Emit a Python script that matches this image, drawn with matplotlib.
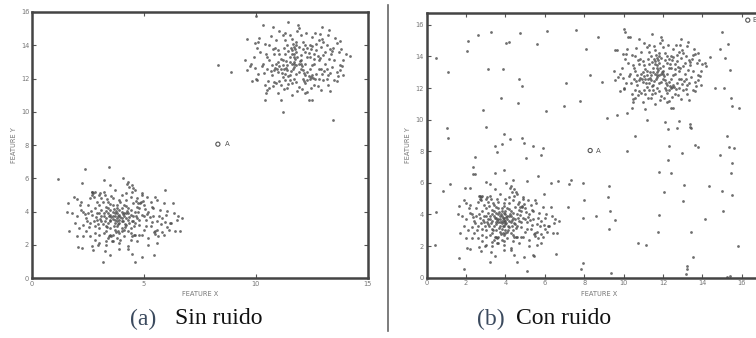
import numpy as np
import matplotlib.pyplot as plt

# ---------------------------------------------------------------- data
# lower-left cluster (x, y)
cluster_low = [
    (1.18, 5.94), (2.37, 6.55), (3.45, 6.65), (2.22, 5.7), (3.23, 5.9), (3.48, 5.6),
    (4.05, 6.0), (4.3, 5.8), (4.45, 5.6), (4.52, 5.4), (4.45, 5.2), (2.66, 5.16),
    (2.74, 5.1), (3.04, 5.1), (3.26, 5.0), (1.88, 4.9), (2.0, 4.74), (1.62, 4.54),
    (1.58, 4.0), (2.14, 4.4), (2.29, 4.0), (1.67, 2.85), (2.22, 1.79), (2.07, 1.85),
    (2.66, 1.93), (2.74, 1.7), (3.19, 0.98), (3.48, 1.38), (3.26, 1.65), (3.56, 2.2),
    (3.93, 2.3), (4.3, 1.9), (4.3, 1.73), (4.45, 1.45), (4.6, 0.98), (4.93, 1.28),
    (5.45, 1.38), (5.64, 2.5), (5.79, 2.79), (6.01, 3.09), (6.16, 3.29), (6.34, 3.9),
    (6.46, 3.49), (6.39, 2.85), (5.94, 5.3), (5.57, 4.7), (5.34, 4.29), (5.12, 4.9),
    (4.9, 5.1), (4.82, 4.5), (6.7, 3.6), (6.6, 2.8),
    (2.6, 3.3), (2.7, 3.8), (2.8, 4.2), (2.9, 3.5), (2.9, 4.6), (3.0, 3.0), (3.0, 3.9),
    (3.1, 4.1), (3.1, 3.4), (3.2, 2.7), (3.2, 3.7), (3.3, 4.3), (3.3, 3.1), (3.4, 3.9),
    (3.4, 2.4), (3.4, 4.6), (3.5, 3.5), (3.5, 3.0), (3.5, 4.1), (3.6, 3.7), (3.6, 2.6),
    (3.6, 4.4), (3.7, 3.3), (3.7, 3.9), (3.7, 2.9), (3.8, 4.2), (3.8, 3.6), (3.8, 3.1),
    (3.9, 3.8), (3.9, 4.7), (3.9, 2.7), (4.0, 3.4), (4.0, 4.0), (4.0, 3.0), (4.1, 3.7),
    (4.1, 4.4), (4.1, 2.5), (4.2, 3.2), (4.2, 3.9), (4.3, 3.5), (4.3, 4.2), (4.3, 2.8),
    (4.4, 3.8), (4.4, 3.0), (4.5, 4.5), (4.5, 3.4), (4.6, 4.0), (4.6, 2.6), (4.7, 3.6),
    (4.7, 4.8), (4.8, 3.2), (4.8, 4.2), (4.9, 3.8), (5.0, 2.9), (5.0, 4.4), (5.1, 3.5),
    (5.2, 4.0), (5.3, 3.1), (5.4, 3.7), (5.5, 2.8), (5.6, 3.4), (5.7, 4.1), (5.8, 3.6),
    (6.0, 3.8), (6.2, 3.3), (2.4, 3.6), (2.3, 3.2), (2.5, 4.4), (2.2, 4.1), (2.0, 3.7),
    (1.9, 3.3), (2.1, 3.0), (2.4, 2.8), (2.6, 2.5), (2.8, 2.3), (3.0, 2.1), (3.3, 2.0),
    (3.6, 2.2), (3.9, 2.1), (4.4, 2.3), (4.8, 2.6), (5.2, 2.4), (5.6, 2.9), (5.9, 4.5),
    (5.3, 4.6), (4.9, 5.0), (4.2, 5.1), (3.7, 5.3), (3.2, 5.2), (2.7, 5.0), (2.6, 4.8),
    (3.6, 4.8), (4.0, 5.0), (4.4, 4.9), (3.3, 3.6), (3.5, 3.8), (3.7, 3.5), (3.9, 3.3),
    (4.1, 3.9), (3.4, 3.3), (3.6, 4.0), (3.8, 3.9), (4.0, 3.6), (4.2, 3.6), (3.5, 3.4),
    (4.3, 3.9), (3.2, 3.9), (3.9, 3.5), (3.7, 3.7), (4.5, 3.7), (4.4, 4.1), (3.1, 3.7),
    (3.8, 4.4), (4.6, 3.3), (3.3, 2.8), (4.1, 2.9), (2.9, 3.9), (4.7, 4.3), (5.0, 3.7),
    (5.4, 4.2), (6.1, 2.9), (6.5, 3.7), (5.9, 2.6), (2.5, 3.9), (2.8, 3.1), (3.0, 4.4),
    (3.4, 4.2), (3.9, 4.1), (4.8, 3.5), (5.1, 3.1), (4.9, 2.6), (3.5, 2.6), (3.0, 2.6),
    (4.4, 2.7), (3.8, 2.4), (4.6, 5.3), (3.0, 5.0), (4.2, 4.7), (2.2, 4.6), (1.8, 3.9),
    (2.0, 2.5), (5.5, 4.9), (6.3, 4.5),
    (2.7, 5.2), (2.8, 5.15), (2.75, 4.9), (3.1, 4.8), (3.35, 4.75), (3.5, 4.45),
    (3.65, 4.15), (3.75, 4.05), (3.85, 3.75), (3.95, 3.65), (4.05, 3.45), (4.15, 3.25),
    (3.45, 3.75), (3.55, 3.65), (3.25, 3.45), (3.15, 3.25), (3.05, 3.55), (2.95, 3.25),
    (2.85, 3.65), (2.75, 3.45), (4.25, 4.05), (4.35, 3.65), (4.45, 3.45), (4.55, 3.15),
    (4.65, 3.75), (4.75, 3.95), (4.85, 4.55), (4.95, 4.65), (5.05, 4.15), (5.15, 3.85),
    (5.25, 3.65), (5.35, 3.35), (5.45, 2.75), (5.5, 2.65), (4.45, 2.55), (4.55, 2.6),
    (3.45, 2.55), (3.55, 2.5), (3.75, 2.75), (3.85, 2.85), (4.0, 2.85), (4.15, 3.05),
    (3.35, 3.05), (3.65, 3.15), (3.85, 3.25), (4.35, 3.3), (4.65, 4.65), (4.75, 4.5),
    (4.35, 5.45), (4.25, 5.65), (3.95, 4.55), (3.55, 4.95), (3.15, 4.55), (2.65, 4.05),
    (2.45, 3.45), (2.35, 3.85), (2.55, 3.05), (5.75, 3.25), (5.95, 3.35), (6.05, 4.05),
    (5.65, 3.75), (3.9, 1.75), (3.3, 2.25), (2.95, 2.0), (4.7, 2.2), (5.2, 2.0),
    (5.6, 2.1), (2.8, 2.7), (2.3, 2.5), (4.2, 4.35), (3.3, 4.05), (3.6, 3.55),
    (3.8, 3.45), (4.05, 3.85), (4.0, 4.2),
]

# upper-right cluster (x, y)
cluster_high = [
    (10.0, 15.75), (10.33, 15.24), (10.77, 15.1), (11.44, 15.4), (11.89, 15.24),
    (11.93, 15.04), (11.29, 14.74), (11.52, 14.64), (12.93, 15.1), (13.28, 14.9),
    (13.23, 14.64), (12.86, 14.7), (9.58, 14.38), (9.96, 14.14), (10.1, 14.18),
    (9.51, 13.1), (9.58, 12.53), (9.73, 12.73), (9.81, 11.83), (10.03, 11.93),
    (10.45, 11.12), (10.41, 10.72), (10.48, 11.32), (11.1, 10.68), (11.19, 10.0),
    (12.19, 11.12), (12.38, 10.72), (12.49, 10.72), (13.42, 9.5), (13.3, 11.22),
    (13.6, 11.83), (13.75, 12.53), (13.75, 12.83), (13.72, 13.57), (13.6, 14.14),
    (13.75, 14.24), (14.2, 13.37), (13.38, 13.63), (13.9, 13.09), (8.3, 12.8),
    (8.9, 12.4),
    (10.5, 12.6), (10.6, 13.1), (10.7, 12.2), (10.8, 13.5), (10.8, 11.8), (10.9, 12.9),
    (11.0, 12.4), (11.0, 13.7), (11.1, 11.6), (11.1, 13.2), (11.2, 12.1), (11.2, 12.8),
    (11.3, 13.5), (11.3, 11.9), (11.4, 12.5), (11.4, 14.0), (11.5, 13.0), (11.5, 12.2),
    (11.6, 13.7), (11.6, 11.7), (11.7, 12.7), (11.7, 13.3), (11.8, 12.3), (11.8, 14.2),
    (11.9, 12.9), (11.9, 11.5), (12.0, 13.4), (12.0, 12.6), (12.1, 12.0), (12.1, 13.8),
    (12.2, 12.9), (12.2, 11.7), (12.3, 13.3), (12.3, 12.4), (12.4, 14.0), (12.4, 12.0),
    (12.5, 12.8), (12.6, 13.5), (12.6, 11.6), (12.7, 12.3), (12.8, 13.1), (12.8, 14.3),
    (12.9, 12.6), (13.0, 11.9), (13.0, 13.4), (13.1, 12.9), (13.2, 12.2), (13.3, 13.8),
    (10.3, 12.9), (10.2, 13.6), (10.1, 12.3), (10.4, 14.1), (10.6, 11.4), (9.9, 13.3),
    (9.8, 12.9), (10.0, 12.0), (10.9, 14.3), (11.2, 14.6), (11.6, 14.4), (12.0, 14.6),
    (12.5, 14.5), (13.0, 14.2), (13.4, 12.7), (13.5, 13.1), (13.5, 11.9), (12.9, 11.3),
    (12.3, 11.2), (11.6, 11.0), (11.0, 11.1), (10.4, 11.6), (11.7, 13.0), (11.8, 13.6),
    (11.9, 12.4), (11.6, 12.9), (11.5, 13.3), (12.0, 12.9), (12.1, 12.5), (11.4, 12.8),
    (11.3, 12.3), (12.2, 13.6), (11.7, 12.0), (12.4, 12.6), (12.6, 12.9), (12.7, 13.7),
    (11.8, 12.8), (12.0, 13.1), (11.9, 13.9), (11.5, 11.9), (11.1, 12.6), (12.3, 11.9),
    (12.8, 12.0), (12.5, 12.2), (11.2, 13.1), (11.0, 13.0), (10.7, 12.8), (10.5, 13.3),
    (13.1, 13.6), (12.9, 13.9), (13.6, 12.4), (13.8, 13.8), (14.0, 13.5), (13.9, 12.2),
    (12.4, 13.3), (11.8, 11.8), (11.4, 11.4), (10.8, 12.5), (11.3, 14.3), (12.1, 14.2),
    (11.6, 13.5), (12.6, 13.2), (12.2, 12.2), (11.7, 13.9), (10.9, 11.7), (12.8, 12.6),
    (13.2, 11.6), (10.6, 14.0),
    (11.65, 12.6), (11.7, 12.85), (11.75, 13.15), (11.7, 13.45), (11.75, 13.75),
    (11.8, 14.0), (11.65, 14.1), (11.55, 13.85), (11.85, 13.3), (11.95, 13.05),
    (12.05, 12.75), (12.15, 12.35), (12.35, 12.15), (12.45, 12.1), (12.55, 12.05),
    (12.65, 11.95), (12.35, 13.55), (12.45, 13.75), (12.5, 13.95), (12.3, 13.85),
    (12.2, 14.0), (12.75, 13.35), (12.85, 13.25), (13.05, 12.45), (13.15, 12.55),
    (13.25, 13.15), (13.35, 13.45), (13.45, 13.85), (13.15, 14.0), (12.95, 14.4),
    (12.7, 14.1), (10.85, 12.65), (10.95, 12.55), (11.05, 12.75), (11.15, 12.35),
    (11.25, 12.55), (11.35, 12.65), (11.45, 12.15), (11.55, 12.45), (10.65, 12.45),
    (10.75, 13.75), (10.85, 13.85), (11.05, 13.45), (11.25, 13.85), (11.35, 13.05),
    (11.45, 13.65), (10.55, 11.85), (10.75, 11.55), (11.05, 11.85), (11.25, 11.35),
    (11.45, 11.65), (11.85, 11.25), (12.05, 11.35), (12.15, 11.85), (12.45, 11.45),
    (12.75, 11.55), (12.95, 12.25), (13.15, 11.95), (13.3, 12.35), (10.35, 12.35),
    (10.25, 12.75), (10.45, 13.45), (10.15, 14.45), (10.65, 14.55), (11.05, 14.85),
    (11.85, 14.85), (12.25, 14.75), (12.65, 14.75), (13.55, 14.45), (13.85, 12.75),
    (13.65, 12.15), (9.95, 12.65), (10.05, 13.85),
]

# scattered noise points, only in panel (b)
noise = [
    (0.47, 13.9), (1.1, 13.0), (2.08, 15.0), (2.06, 14.35), (2.59, 15.36), (3.25, 15.57),
    (4.03, 14.83), (4.2, 14.9), (4.74, 15.5), (5.58, 14.8), (6.09, 15.6), (7.58, 15.7),
    (8.68, 15.25), (8.1, 14.45), (3.13, 13.2), (3.86, 13.2), (4.67, 12.57), (4.84, 12.15),
    (4.62, 11.03), (3.76, 11.4), (2.88, 10.6), (3.0, 9.56), (1.05, 9.49), (1.1, 8.86),
    (3.94, 9.07), (3.82, 8.46), (3.47, 8.35), (4.23, 8.78), (4.86, 8.86), (4.96, 8.54),
    (5.03, 7.55), (5.41, 8.33), (6.07, 10.55), (6.95, 10.86), (7.09, 12.3), (7.77, 11.2),
    (9.14, 10.08), (9.64, 10.27), (10.15, 10.4), (10.56, 8.97), (10.15, 8.04),
    (5.92, 8.2), (5.8, 7.76), (2.45, 7.66), (2.34, 7.03), (2.47, 6.54), (3.0, 6.05),
    (1.95, 5.7), (0.85, 5.5), (0.47, 4.16), (0.42, 2.07), (1.62, 1.27), (1.91, 0.53),
    (3.55, 7.97), (3.93, 6.81), (4.4, 6.18), (5.09, 6.12), (5.65, 6.46), (6.31, 6.01),
    (6.65, 6.14), (7.33, 6.18), (7.24, 5.93), (7.92, 5.97), (8.0, 4.92), (7.19, 4.49),
    (7.94, 3.8), (8.61, 3.9), (9.24, 3.1), (9.31, 4.24), (9.22, 5.13), (9.27, 5.82),
    (9.58, 3.65), (7.92, 0.9), (7.85, 0.53), (9.34, 0.27), (6.56, 1.5), (5.79, 2.17),
    (5.4, 1.43), (5.11, 0.42), (10.71, 2.17), (11.13, 2.07), (11.76, 2.87), (11.81, 3.97),
    (11.81, 6.69), (12.05, 5.42), (12.4, 6.65), (12.27, 7.45), (12.32, 8.31),
    (12.25, 9.41), (12.12, 9.83), (12.72, 9.45), (12.81, 9.89), (13.35, 9.73),
    (13.38, 9.51), (12.94, 7.87), (13.6, 8.38), (13.76, 8.29), (13.06, 5.86),
    (13.03, 4.87), (13.4, 2.87), (13.54, 1.29), (13.23, 0.76), (13.2, 0.53),
    (13.17, 0.21), (14.13, 3.71), (14.33, 5.8), (14.97, 5.49), (15.05, 4.22),
    (15.43, 6.6), (15.48, 7.24), (15.33, 8.29), (15.6, 8.19), (15.23, 8.97),
    (14.89, 7.76), (15.48, 5.24), (15.8, 2.03), (15.23, 0.06), (15.4, 0.13),
    (14.97, 15.53), (15.3, 14.79), (14.89, 14.47), (15.16, 13.92), (15.4, 13.14),
    (15.1, 11.98), (15.43, 11.39), (15.48, 10.86), (15.87, 10.72), (14.64, 11.98),
    (14.13, 13.57), (13.54, 14.09), (14.38, 13.99), (10.07, 15.57), (10.24, 15.25),
    (9.64, 14.41),
]

point_a = (8.3, 8.05)
point_b = (16.3, 16.3)

low = np.array(cluster_low)
high = np.array(cluster_high)
nz = np.array(noise)

# ---------------------------------------------------------------- figure
fig = plt.figure(figsize=(7.56, 3.38), dpi=100)

ax1 = fig.add_axes([0.0423, 0.1775, 0.4444, 0.787])
ax2 = fig.add_axes([0.5644, 0.1784, 0.456, 0.783])

dot = dict(s=4, color='#4a4a4a', alpha=0.8, linewidths=0)


def style(ax, xticks, yticks):
    for sp in ax.spines.values():
        sp.set_linewidth(1.8)
        sp.set_color('#444444')
    ax.set_xticks(xticks)
    ax.set_yticks(yticks)
    ax.tick_params(direction='in', length=3, width=0.8, color='#555555',
                   labelsize=4.8, labelcolor='#777777', pad=2,
                   top=True, right=True)
    ax.set_xlabel('FEATURE X', fontsize=4.8, color='#777777', labelpad=3)
    ax.set_ylabel('FEATURE Y', fontsize=4.8, color='#777777', labelpad=3)


# panel (a)
ax1.scatter(low[:, 0], low[:, 1], **dot)
ax1.scatter(high[:, 0], high[:, 1], **dot)
ax1.scatter(*point_a, s=9, facecolors='none', edgecolors='#555555', linewidths=0.8)
ax1.text(point_a[0] + 0.3, point_a[1], 'A', fontsize=5, color='#555555', va='center')
ax1.set_xlim(0, 15)
ax1.set_ylim(0, 16)
style(ax1, [0, 5, 10, 15], np.arange(0, 17, 2))

# panel (b)
ax2.scatter(low[:, 0], low[:, 1], **dot)
ax2.scatter(high[:, 0], high[:, 1], **dot)
ax2.scatter(nz[:, 0], nz[:, 1], **dot)
ax2.scatter(*point_a, s=9, facecolors='none', edgecolors='#555555', linewidths=0.8)
ax2.text(point_a[0] + 0.3, point_a[1], 'A', fontsize=5, color='#555555', va='center')
ax2.scatter(*point_b, s=9, facecolors='none', edgecolors='#555555', linewidths=0.8,
            clip_on=False)
ax2.text(point_b[0] + 0.25, point_b[1], 'B', fontsize=5, color='#555555', va='center')
ax2.set_xlim(0, 17.5)
ax2.set_ylim(0, 16.75)
style(ax2, np.arange(0, 17, 2), np.arange(0, 17, 2))

# separator line between the panels
fig.add_artist(plt.Line2D([388 / 756, 388 / 756], [0.02, 0.985],
                          color='#666666', linewidth=1.2))

# captions: tag end and name start in pixels
for tag_end, name_start, tag, name in [(156, 175, '(a)', 'Sin ruido'),
                                       (505, 516, '(b)', 'Con ruido')]:
    fig.text(tag_end / 756, 1 - 319 / 338, tag, fontsize=17,
             family='Liberation Serif', color='#3b4a5e', ha='right', va='center')
    fig.text(name_start / 756, 1 - 319 / 338, name, fontsize=17,
             family='Liberation Serif', color='#111111', ha='left', va='center')

plt.savefig('out.png', dpi=100)
